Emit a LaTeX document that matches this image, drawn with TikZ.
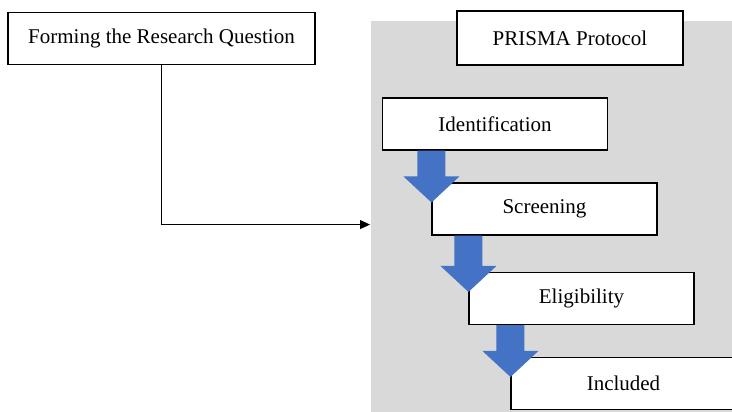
\documentclass[tikz,border=0pt]{standalone}
\usepackage{fontspec}
\setmainfont{Liberation Serif}
\usetikzlibrary{
    arrows.meta,
    calc
}

\definecolor{panelgray}{RGB}{217,217,217}
\definecolor{stepblue}{RGB}{68,114,196}

\begin{document}
\begin{tikzpicture}[x=1pt,y=-1pt,line width=1.1pt,
    box/.style={draw,fill=white,minimum height=52pt,inner sep=0pt,
        font=\fontsize{21}{25}\selectfont},
    stepbox/.style={box,minimum width=225pt},
    stepArrow/.style={fill=stepblue}]

\clip (0,0) rectangle (732,412);

% shaded panel
\node[fill=panelgray,anchor=north west,minimum width=380pt,
      minimum height=408pt,inner sep=0pt] (panel) at (370,20) {};

% left box
\node[box,minimum width=307pt] (form) at (161.5,38.5)
    {Forming the Research Question};

% PRISMA steps
\node[box,minimum width=226pt,minimum height=54pt] (prisma) at (570,38)
    {PRISMA Protocol};
\node[stepbox] (ident) at (495,124) {Identification};
\node[stepbox] (scr) at (544.5,209) {Screening};
\node[stepbox] (elig) at (581.5,298.5) {Eligibility};
\node[stepbox] (incl) at (623.5,383.5) {Included};

% Link
\draw[line width=0.9pt,-{Triangle[length=10pt,width=9pt]}]
    (form.south) |- (panel.west);

% Block arrows
\foreach \a/\b in {ident/scr,scr/elig,elig/incl}{
    \fill[stepArrow] let \p1=(\b.north west), \p2=(\a.south) in
    (\x1,\y1-20pt) -- ++(28pt,26pt) -- ++(-14pt,0pt) --
    (\x1+14pt,\y2) -- (\x1-14pt,\y2) -- (\x1-14pt,\y1+6pt) --
    ++(-14pt,0pt) -- cycle;
}

\end{tikzpicture}
\end{document}
